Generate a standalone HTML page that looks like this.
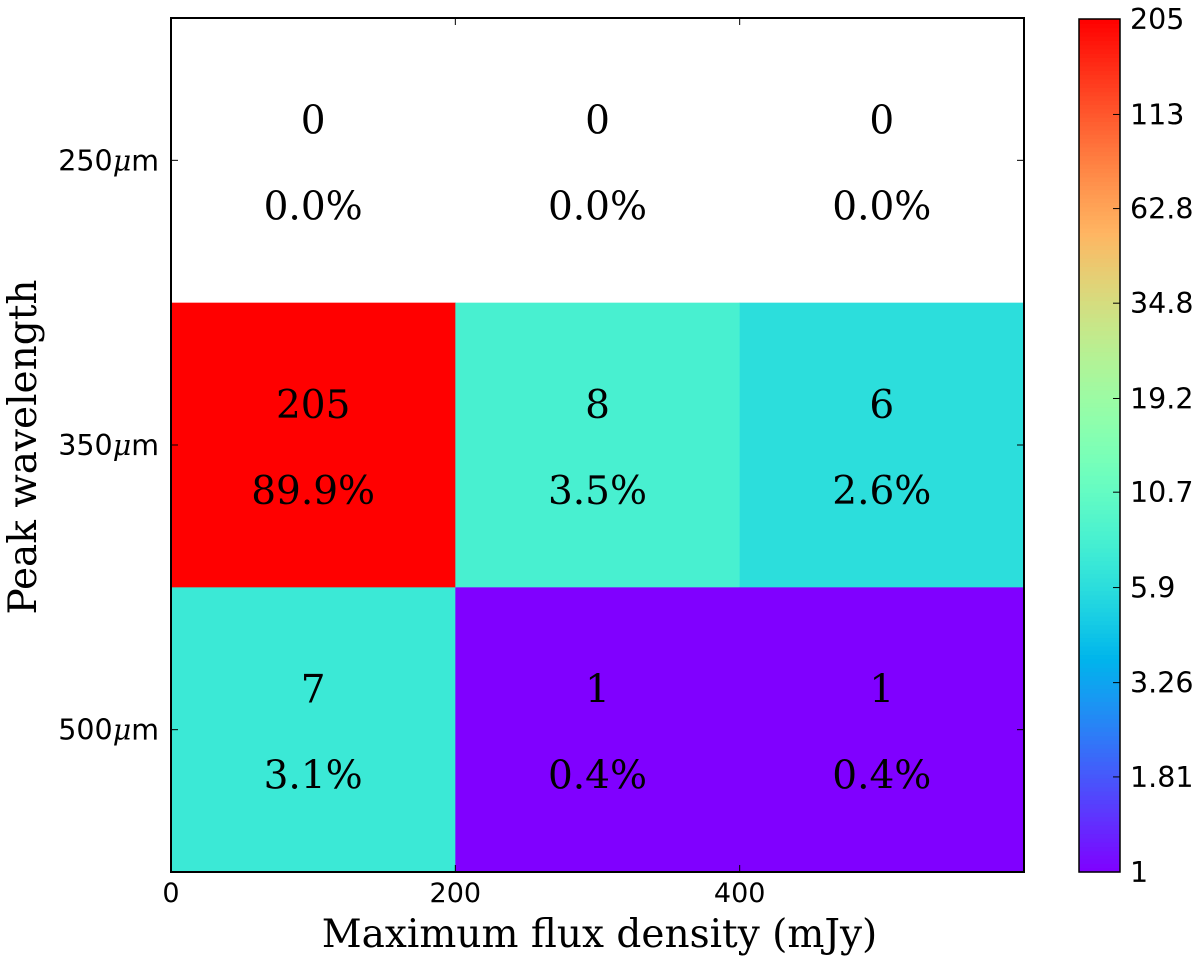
<!DOCTYPE html>
<html><head><meta charset="utf-8"><style>
html,body{margin:0;padding:0;background:#fff;width:1200px;height:960px;overflow:hidden}
</style></head><body>
<svg id="chart" width="1200" height="960" xmlns="http://www.w3.org/2000/svg"></svg>
<script>
const rowLabels = ["250", "350", "500"];
const colEdges = [0, 200, 400, 600];
const counts = [[0, 0, 0], [205, 8, 6], [7, 1, 1]];
const percents = ["0.0%", "0.0%", "0.0%", "89.9%", "3.5%", "2.6%", "3.1%", "0.4%", "0.4%"];
const xTicks = [0, 200, 400];
const cbTicks = ["1", "1.81", "3.26", "5.9", "10.7", "19.2", "34.8", "62.8", "113", "205"];
const vmin = 1, vmax = 205;

const NS = "http://www.w3.org/2000/svg";
const svg = document.getElementById("chart");
const L = 171, R = 1024, T = 18, B = 872;
const W = R - L, H = B - T;
const xs = v => L + (v - colEdges[0]) / (colEdges[colEdges.length - 1] - colEdges[0]) * W;
const nRows = rowLabels.length;
const ys = i => T + i * H / nRows;
const norm = v => Math.log(v / vmin) / Math.log(vmax / vmin);
function rainbow(t) {
  t = Math.max(0, Math.min(1, t));
  const r = Math.min(1, Math.abs(2 * t - 0.5)), g = Math.sin(Math.PI * t), b = Math.cos(Math.PI / 2 * t);
  return `rgb(${Math.round(r * 255)},${Math.round(g * 255)},${Math.round(b * 255)})`;
}
function el(tag, attrs, text) {
  const e = document.createElementNS(NS, tag);
  for (const k in attrs) e.setAttribute(k, attrs[k]);
  if (text !== undefined) e.textContent = text;
  svg.appendChild(e);
  return e;
}
const serif = '"DejaVu Serif", "Liberation Serif", serif';
const sans = '"DejaVu Sans", "Liberation Sans", sans-serif';

for (let i = 0; i < nRows; i++) {
  for (let j = 0; j < colEdges.length - 1; j++) {
    const v = counts[i][j];
    const x0 = xs(colEdges[j]), x1 = xs(colEdges[j + 1]);
    if (v > 0) {
      const c = el("rect", {x: x0, y: ys(i), width: x1 - x0 + 0.5, height: H / nRows + 0.5, fill: rainbow(norm(v))});
      
      
    }
    const cx = (x0 + x1) / 2, cy = ys(i) + H / nRows / 2;
    const t1 = el("text", {x: cx, y: cy - 27, "text-anchor": "middle", "font-family": serif, "font-size": 39}, String(v));
    
    
    const t2 = el("text", {x: cx, y: cy + 59, "text-anchor": "middle", "font-family": serif, "font-size": 39}, percents[i * 3 + j]);
    
    
  }
}
const fr = el("rect", {x: L, y: T, width: W, height: H, fill: "none", stroke: "#000", "stroke-width": 2});


xTicks.forEach(v => {
  const x = xs(v);
  el("line", {x1: x, y1: B, x2: x, y2: B - 7, stroke: "#000", "stroke-width": 1});
  el("line", {x1: x, y1: T, x2: x, y2: T + 7, stroke: "#000", "stroke-width": 1});
  const t = el("text", {x: x, y: B + 30, "text-anchor": "middle", "font-family": sans, "font-size": 27}, String(v));
  
  
});
rowLabels.forEach((lab, i) => {
  const y = ys(i) + H / nRows / 2;
  el("line", {x1: L, y1: y, x2: L + 7, y2: y, stroke: "#000", "stroke-width": 1});
  el("line", {x1: R, y1: y, x2: R - 7, y2: y, stroke: "#000", "stroke-width": 1});
  const t = el("text", {x: L - 12, y: y + 10, "text-anchor": "end", "font-family": sans, "font-size": 28.5});
  
  
  t.innerHTML = lab + '<tspan font-family=\'"DejaVu Serif", serif\' font-style="italic">μ</tspan>m';
});
const xt = el("text", {x: (L + R) / 2 + 2, y: 947, "text-anchor": "middle", "font-family": serif, "font-size": 39}, "Maximum flux density (mJy)");


const yt = el("text", {x: 0, y: 0, "text-anchor": "middle", "font-family": serif, "font-size": 39, transform: `translate(36,${(T + B) / 2 + 2}) rotate(-90)`}, "Peak wavelength");


const CL = 1079, CR = 1120, CT = 19, CB = 872;
const steps = 200;
for (let k = 0; k < steps; k++) {
  const t = (k + 0.5) / steps;
  const y = CB - (k + 1) * (CB - CT) / steps;
  el("rect", {x: CL, y: y, width: CR - CL, height: (CB - CT) / steps + 0.6, fill: rainbow(t)});
}
const cbf = el("rect", {x: CL, y: CT, width: CR - CL, height: CB - CT, fill: "none", stroke: "#000", "stroke-width": 1.5});


cbTicks.forEach(s => {
  const v = parseFloat(s);
  const y = CB - norm(v) * (CB - CT);
  el("line", {x1: CR, y1: y, x2: CR - 7, y2: y, stroke: "#000", "stroke-width": 1});
  const t = el("text", {x: CR + 10, y: y + 10, "font-family": sans, "font-size": 28.5}, s);
  
  
});
</script>
</body></html>
